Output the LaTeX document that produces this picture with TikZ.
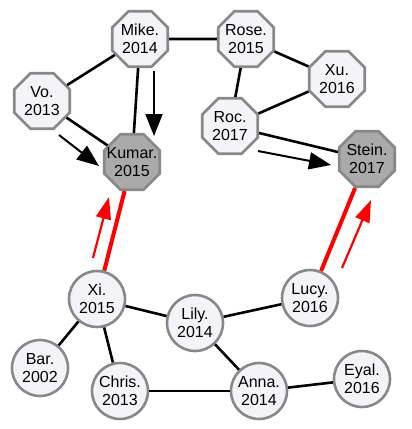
\documentclass[tikz,border=0pt]{standalone}
\usepackage{fontspec}
\setmainfont{Liberation Sans}
\usetikzlibrary{shapes.geometric,arrows.meta}
\definecolor{nodefill}{HTML}{F4F4F8}
\definecolor{bordergray}{HTML}{888888}
\definecolor{darkfill}{HTML}{AAAAAA}
\tikzset{
  base/.style={draw=bordergray, line width=2.6pt, fill=nodefill, inner sep=0pt, align=center,
    font=\fontsize{16}{18.5}\selectfont},
  oct/.style={base, regular polygon, regular polygon sides=8, minimum size=60pt, inner sep=-12pt},
  hot/.style={fill=darkfill},
  circ/.style={base, circle, minimum size=56pt},
  edge/.style={line width=2.6pt, black},
  redge/.style={line width=4pt, red},
  barrow/.style={line width=2pt, black, -{Triangle[length=22pt,width=17pt]}},
  rarrow/.style={line width=2.2pt, red, -{Triangle[length=22pt,width=15pt]}},
}
\begin{document}
\begin{tikzpicture}[x=1pt,y=-1pt]
\useasboundingbox (0,0) rectangle (412,429);
% nodes
\node[oct] (mike) at (140,39) {Mike.\\2014};
\node[oct] (vo) at (42,101) {Vo.\\2013};
\node[oct,hot] (kumar) at (132,162) {Kumar.\\2015};
\node[oct] (rose) at (246,39) {Rose.\\2015};
\node[oct] (xu) at (337,79) {Xu.\\2016};
\node[oct] (roc) at (230,126) {Roc.\\2017};
\node[oct,hot] (stein) at (367,159) {Stein.\\2017};
\node[circ] (xi) at (97,299) {Xi.\\2015};
\node[circ] (lily) at (195,323) {Lily.\\2014};
\node[circ] (lucy) at (310,298) {Lucy.\\2016};
\node[circ] (bar) at (40,368) {Bar.\\2002};
\node[circ] (chris) at (120,391) {Chris.\\2013};
\node[circ] (anna) at (259,391) {Anna.\\2014};
\node[circ] (eyal) at (362,379) {Eyal.\\2016};
% edges
\draw[edge] (mike) -- (vo);
\draw[edge] (mike) -- (kumar);
\draw[edge] (mike) -- (rose);
\draw[edge] (vo) -- (kumar);
\draw[edge] (rose) -- (xu);
\draw[edge] (rose) -- (roc);
\draw[edge] (roc) -- (xu);
\draw[edge] (roc) -- (stein);
\draw[edge] (xi) -- (lily);
\draw[edge] (xi) -- (bar);
\draw[edge] (xi) -- (chris);
\draw[edge] (lily) -- (lucy);
\draw[edge] (lily) -- (anna);
\draw[edge] (chris) -- (anna);
\draw[edge] (anna) -- (eyal);
\draw[redge] (xi) -- (kumar);
\draw[redge] (lucy) -- (stein);
% arrows
\coordinate (a1s) at (154,71);
\coordinate (a1e) at (154,136);
\coordinate (a2s) at (59,135);
\coordinate (a2e) at (99,166);
\coordinate (a3s) at (258,151);
\coordinate (a3e) at (331,165);
\coordinate (a4s) at (93,258);
\coordinate (a4e) at (109,197);
\coordinate (a5s) at (342,268);
\coordinate (a5e) at (371,200);
\draw[barrow] (a1s) -- (a1e);
\draw[barrow] (a2s) -- (a2e);
\draw[barrow] (a3s) -- (a3e);
\draw[rarrow] (a4s) -- (a4e);
\draw[rarrow] (a5s) -- (a5e);
\end{tikzpicture}
\end{document}
